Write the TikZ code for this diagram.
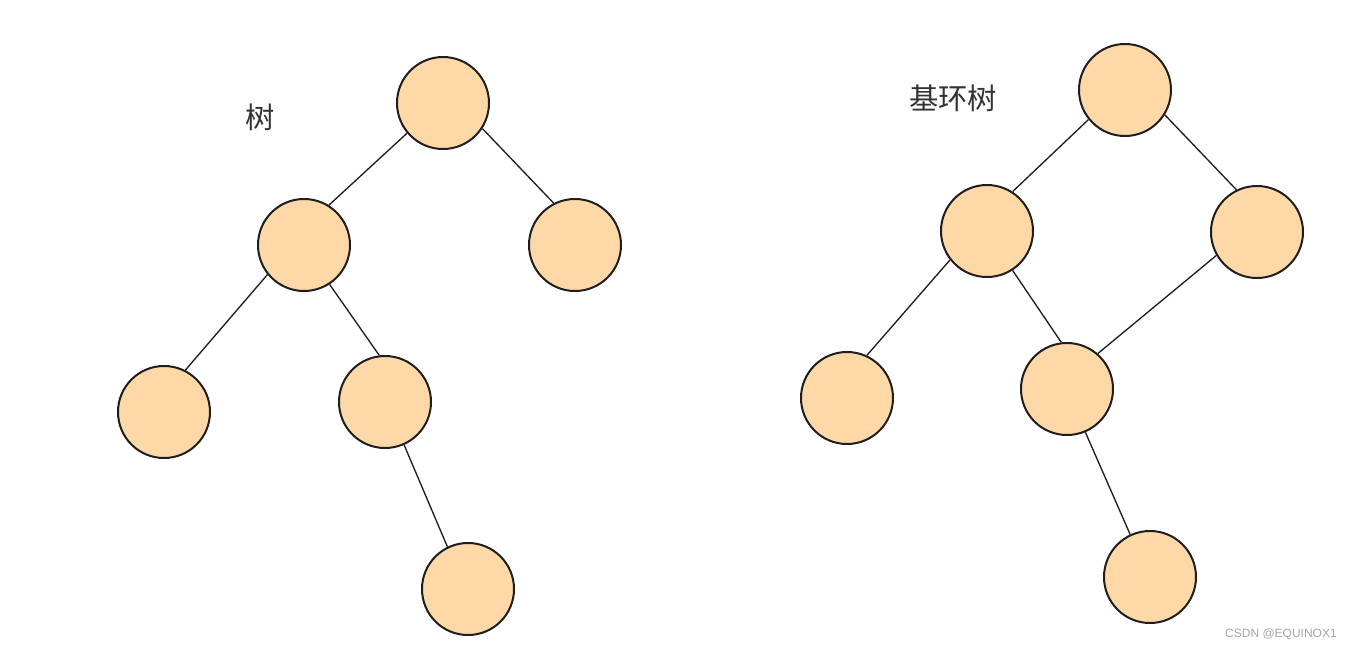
\documentclass[tikz,border=0pt]{standalone}
\usepackage{fontspec}
\newfontfamily\cjk{Noto Sans CJK SC}
\newfontfamily\wm{Liberation Sans}
\definecolor{peach}{HTML}{FFD8A8}
\definecolor{ink}{HTML}{1E1E1E}
\definecolor{txt}{HTML}{333333}
\begin{document}
\begin{tikzpicture}[x=0.75pt,y=-0.75pt,
  tnode/.style={circle,draw=ink,fill=peach,line width=1.5pt,minimum size=69pt,inner sep=0pt},
  tedge/.style={draw=ink,line width=1pt},
  lbl/.style={text=txt,font=\cjk\fontsize{22pt}{26pt}\selectfont}]
\useasboundingbox[fill=white] (0,0) rectangle (1354,651);
% left tree
\node[tnode] (a) at (443,103) {};
\node[tnode] (b) at (304,245) {};
\node[tnode] (c) at (575,245) {};
\node[tnode] (d) at (164,412) {};
\node[tnode] (e) at (385,402) {};
\node[tnode] (f) at (468,589) {};
\draw[tedge] (a.220) -- (b.58);
\draw[tedge] (a.-33) -- (c.117);
\draw[tedge] (b.219) -- (d.63);
\draw[tedge] (b.-57) -- (e.97);
\draw[tedge] (e.-66) -- (f.116);
\node[lbl] (t1) at (260,117) {树};
% right tree
\node[tnode] (p) at (1125,90) {};
\node[tnode] (q) at (987,231) {};
\node[tnode] (r) at (1257,232) {};
\node[tnode] (s) at (847,398) {};
\node[tnode] (u) at (1067,389) {};
\node[tnode] (v) at (1150,577) {};
\draw[tedge] (p.219) -- (q.57);
\draw[tedge] (p.-32) -- (r.116);
\draw[tedge] (q.218) -- (s.65);
\draw[tedge] (q.-57) -- (u.97);
\draw[tedge] (r.210) -- (u.49);
\draw[tedge] (u.-67) -- (v.115);
\node[lbl] (t2) at (953,98) {基环树};
\node[text=gray!70] (w) at (1281,634) {\wm\fontsize{9pt}{11pt}\selectfont CSDN @EQUINOX1};
\end{tikzpicture}
\end{document}
